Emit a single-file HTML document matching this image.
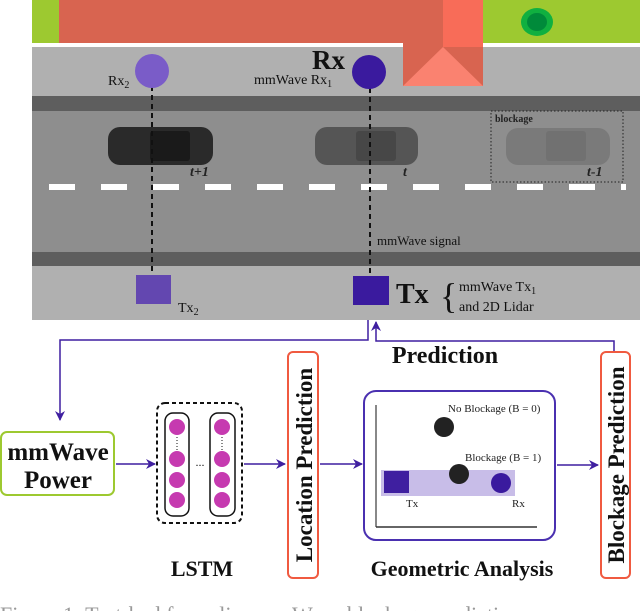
<!DOCTYPE html>
<html><head><style>
html,body{margin:0;padding:0;background:#fff;}
svg{display:block;font-family:"Liberation Serif",serif;}
</style></head><body>
<svg width="640" height="611" viewBox="0 0 640 611" xmlns="http://www.w3.org/2000/svg">
<defs>
<marker id="ar" markerWidth="10" markerHeight="10" refX="9" refY="5" orient="auto" markerUnits="userSpaceOnUse"><path d="M0,0 L10,5 L0,10 L3,5 Z" fill="#3f1fa0"/></marker>
</defs>
<!-- top -->
<rect x="32" y="0" width="608" height="43" fill="#9dc930"/>
<rect x="32" y="43" width="608" height="4" fill="#fff"/>
<rect x="32" y="47" width="608" height="49" fill="#b0b0b0"/>
<rect x="59" y="0" width="384" height="43" fill="#d86450"/>
<rect x="403" y="43" width="80" height="43" fill="#d86450"/>
<rect x="443" y="0" width="40" height="47" fill="#f86c58"/>
<polygon points="403,86 443,47 483,86" fill="#fa8270"/>
<ellipse cx="537" cy="22" rx="16" ry="14" fill="#10b040"/>
<ellipse cx="537" cy="22" rx="10" ry="9" fill="#008a3a"/>
<rect x="32" y="96" width="608" height="15" fill="#5e5e5e"/>
<rect x="32" y="111" width="608" height="141" fill="#8e8e8e"/>
<rect x="32" y="252" width="608" height="14" fill="#5e5e5e"/>
<rect x="32" y="266" width="608" height="54" fill="#b0b0b0"/>
<g fill="#fff">
<rect x="49" y="184" width="26" height="6"/><rect x="101" y="184" width="26" height="6"/><rect x="153" y="184" width="26" height="6"/><rect x="205" y="184" width="26" height="6"/><rect x="257" y="184" width="26" height="6"/><rect x="309" y="184" width="26" height="6"/><rect x="361" y="184" width="26" height="6"/><rect x="413" y="184" width="26" height="6"/><rect x="465" y="184" width="26" height="6"/><rect x="517" y="184" width="26" height="6"/><rect x="569" y="184" width="26" height="6"/><rect x="621" y="184" width="5" height="6"/>
</g>
<!-- cars -->
<rect x="108" y="127" width="105" height="38" rx="12" fill="#2a2a2a"/>
<rect x="150" y="131" width="40" height="30" rx="3" fill="#1a1a1a"/>
<rect x="315" y="127" width="103" height="38" rx="12" fill="#555"/>
<rect x="356" y="131" width="40" height="30" rx="3" fill="#474747"/>
<rect x="506" y="128" width="104" height="37" rx="12" fill="#7a7a7a"/>
<rect x="546" y="131" width="40" height="30" rx="3" fill="#717171"/>
<rect x="491" y="111" width="132" height="71" fill="none" stroke="#222" stroke-width="1" stroke-dasharray="1.5,2"/>
<text x="495" y="122" font-size="10" font-weight="bold" fill="#222">blockage</text>
<text x="190" y="176" font-size="14" font-style="italic" font-weight="bold" fill="#222">t+1</text>
<text x="403" y="176" font-size="14" font-style="italic" font-weight="bold" fill="#222">t</text>
<text x="587" y="176" font-size="14" font-style="italic" font-weight="bold" fill="#222">t-1</text>
<!-- links -->
<line x1="152" y1="86" x2="152" y2="275" stroke="#111" stroke-width="2" stroke-dasharray="5,4"/>
<line x1="370" y1="88" x2="370" y2="276" stroke="#111" stroke-width="2" stroke-dasharray="5,4"/>
<circle cx="152" cy="71" r="17" fill="#7a5cc8"/>
<circle cx="369" cy="72" r="17" fill="#3a1a9e"/>
<text x="108" y="85" font-size="14" fill="#111">Rx<tspan font-size="10" dy="3">2</tspan></text>
<text x="312" y="69" font-size="27" font-weight="bold" fill="#111">Rx</text>
<text x="254" y="84" font-size="14" fill="#111">mmWave Rx<tspan font-size="10" dy="3">1</tspan></text>
<text x="377" y="245" font-size="13" fill="#111">mmWave signal</text>
<rect x="136" y="275" width="35" height="29" fill="#6347b0"/>
<rect x="353" y="276" width="36" height="29" fill="#3a1a9e"/>
<text x="178" y="312" font-size="14" fill="#111">Tx<tspan font-size="10" dy="3">2</tspan></text>
<text x="396" y="303" font-size="28" font-weight="bold" fill="#111">Tx</text>
<text x="440" y="308" font-size="36" fill="#111" transform="scale(1,1)">{</text>
<text x="459" y="291" font-size="14" fill="#111">mmWave Tx<tspan font-size="10" dy="3">1</tspan></text>
<text x="459" y="311" font-size="14" fill="#111">and 2D Lidar</text>
<!-- feedback -->
<polyline points="368,320 368,340 60,340 60,420" fill="none" stroke="#3f1fa0" stroke-width="1.5" marker-end="url(#ar)"/>
<polyline points="614,352 614,341 376,341 376,322" fill="none" stroke="#3f1fa0" stroke-width="1.5" marker-end="url(#ar)"/>
<text x="445" y="363" font-size="24" font-weight="bold" text-anchor="middle" fill="#111">Prediction</text>
<!-- mmWave power -->
<rect x="1" y="432" width="113" height="63" rx="6" fill="#fff" stroke="#9dc930" stroke-width="2"/>
<text x="58" y="460" font-size="25" font-weight="bold" text-anchor="middle" fill="#111">mmWave</text>
<text x="58" y="488" font-size="25" font-weight="bold" text-anchor="middle" fill="#111">Power</text>
<line x1="116" y1="464" x2="155" y2="464" stroke="#3f1fa0" stroke-width="1.5" marker-end="url(#ar)"/>
<!-- LSTM -->
<rect x="157" y="403" width="85" height="120" rx="8" fill="none" stroke="#111" stroke-width="2" stroke-dasharray="4,3"/>
<rect x="165" y="413" width="24" height="103" rx="8" fill="none" stroke="#111" stroke-width="1.5"/>
<rect x="210" y="413" width="25" height="103" rx="8" fill="none" stroke="#111" stroke-width="1.5"/>
<g fill="#c63ab0">
<circle cx="177" cy="427" r="8"/><circle cx="177" cy="459" r="8"/><circle cx="177" cy="480" r="8"/><circle cx="177" cy="500" r="8"/>
<circle cx="222" cy="427" r="8"/><circle cx="222" cy="459" r="8"/><circle cx="222" cy="480" r="8"/><circle cx="222" cy="500" r="8"/>
</g>
<line x1="177" y1="437" x2="177" y2="450" stroke="#111" stroke-dasharray="1,2"/>
<line x1="222" y1="437" x2="222" y2="450" stroke="#111" stroke-dasharray="1,2"/>
<text x="200" y="466" font-size="12" text-anchor="middle" fill="#111">...</text>
<text x="202" y="576" font-size="22" font-weight="bold" text-anchor="middle" fill="#111">LSTM</text>
<line x1="244" y1="464" x2="285" y2="464" stroke="#3f1fa0" stroke-width="1.5" marker-end="url(#ar)"/>
<!-- location prediction -->
<rect x="288" y="352" width="30" height="226" rx="5" fill="#fff" stroke="#f05a40" stroke-width="2"/>
<text transform="translate(312,465) rotate(-90)" font-size="23" font-weight="bold" text-anchor="middle" fill="#111">Location Prediction</text>
<line x1="320" y1="464" x2="362" y2="464" stroke="#3f1fa0" stroke-width="1.5" marker-end="url(#ar)"/>
<!-- geometric -->
<rect x="364" y="391" width="191" height="149" rx="12" fill="#fff" stroke="#4a30b0" stroke-width="2"/>
<line x1="376" y1="405" x2="376" y2="527" stroke="#111" stroke-width="1"/>
<line x1="376" y1="527" x2="537" y2="527" stroke="#333" stroke-width="1.5"/>
<rect x="381" y="470" width="134" height="26" fill="#c8bde8"/>
<rect x="384" y="471" width="25" height="22" fill="#3f1fa0"/>
<circle cx="444" cy="427" r="10" fill="#222"/>
<circle cx="459" cy="474" r="10" fill="#222"/>
<circle cx="501" cy="483" r="10" fill="#3a1a9e"/>
<text x="448" y="412" font-size="11" fill="#222">No Blockage (B = 0)</text>
<text x="465" y="461" font-size="11" fill="#222">Blockage (B = 1)</text>
<text x="406" y="507" font-size="11" fill="#222">Tx</text>
<text x="512" y="507" font-size="11" fill="#222">Rx</text>
<text x="462" y="576" font-size="22" font-weight="bold" text-anchor="middle" fill="#111">Geometric Analysis</text>
<line x1="557" y1="465" x2="598" y2="465" stroke="#3f1fa0" stroke-width="1.5" marker-end="url(#ar)"/>
<!-- blockage prediction -->
<rect x="601" y="352" width="29" height="226" rx="5" fill="#fff" stroke="#f05a40" stroke-width="2"/>
<text transform="translate(624,465) rotate(-90)" font-size="23" font-weight="bold" text-anchor="middle" fill="#111">Blockage Prediction</text>
<text x="0" y="622" font-size="22" fill="#999">Figure 1: Test-bed for online mmWave blockage prediction</text>
</svg>
</body></html>
